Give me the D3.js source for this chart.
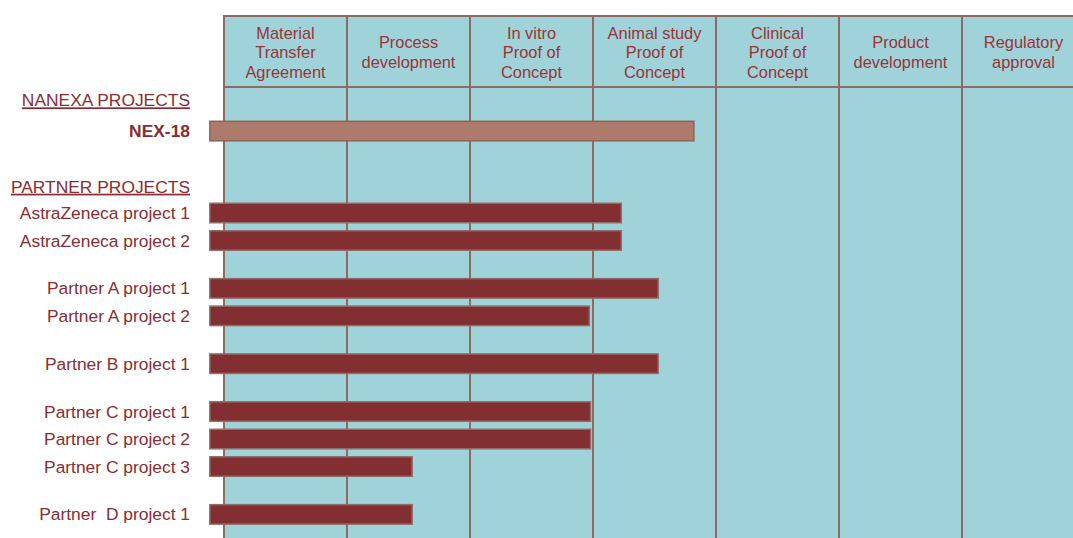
<!DOCTYPE html>
<html>
<head>
<meta charset="utf-8">
<script src="https://cdn.jsdelivr.net/npm/d3@7"></script>
<style>
  body { margin: 0; background: #fff; }
  text { font-family: "Liberation Sans", Arial, sans-serif; }
</style>
</head>
<body>
<div id="viz"></div>
<script>
// phases (column headers), one line per array entry
var phases = [
  ["Material", "Transfer", "Agreement"],
  ["Process", "development"],
  ["In vitro", "Proof of", "Concept"],
  ["Animal study", "Proof of", "Concept"],
  ["Clinical", "Proof of", "Concept"],
  ["Product", "development"],
  ["Regulatory", "approval"]
]

// own projects
var nanexaProjects = ["NEX-18"]
var nanexaProgress = [3.82]

// partner projects, grouped by partner
var partnerGroups = [
  ["AstraZeneca project 1", "AstraZeneca project 2"],
  ["Partner A project 1", "Partner A project 2"],
  ["Partner B project 1"],
  ["Partner C project 1", "Partner C project 2", "Partner C project 3"],
  ["Partner  D project 1"]
]
var partnerProgress = [
  [3.23, 3.23],
  [3.53, 2.97],
  [3.53],
  [2.98, 2.98, 1.53],
  [1.53]
]

var barStart = -0.115  // bars begin a little left of the first column

var width = 1073, height = 538
var gridTop = 16, headerBottom = 87

var svg = d3.select("#viz").append("svg")
  .attr("width", width)
  .attr("height", height)

var xScale = d3.scaleLinear()
  .domain([0, phases.length])
  .range([224, 224 + 123 * phases.length])

// rows are laid out in slot units, gaps between partner groups
var groupGap = 0.74
var yScale = d3.scaleLinear()
  .domain([0, 1])
  .range([213, 240.5])

// build row list
var rows = []
var headings = [
  {text: "NANEXA PROJECTS", slot: -4.1},
  {text: "PARTNER PROJECTS", slot: -0.96}
]
nanexaProjects.forEach(function(name, i) {
  rows.push({name: name, value: nanexaProgress[i], slot: -2.98, own: true})
})
var k = 0
partnerGroups.forEach(function(group, g) {
  group.forEach(function(name, i) {
    rows.push({name: name, value: partnerProgress[g][i], slot: k + g * groupGap, own: false})
    k++
  })
})

var lineColor = "#8d6b62"
var textColor = "#8a2c31"
var labelSize = 17.4

// grid background
svg.append("rect")
  .attr("x", xScale(0))
  .attr("y", gridTop)
  .attr("width", xScale(phases.length) - xScale(0))
  .attr("height", height - gridTop + 10)
  .attr("fill", "#9fd3d9")
  .attr("stroke", lineColor)
  .attr("stroke-width", 2)

// header bottom line
svg.append("line")
  .attr("x1", xScale(0)).attr("x2", xScale(phases.length))
  .attr("y1", headerBottom).attr("y2", headerBottom)
  .attr("stroke", lineColor).attr("stroke-width", 2)

// column separators
svg.selectAll(".col")
  .data(d3.range(1, phases.length))
  .enter().append("line")
  .attr("x1", function(d) { return xScale(d) })
  .attr("x2", function(d) { return xScale(d) })
  .attr("y1", gridTop)
  .attr("y2", height + 5)
  .attr("stroke", lineColor)
  .attr("stroke-width", 2)

// column headers
var lineH = 19.5
svg.selectAll(".phase")
  .data(phases)
  .enter().append("text")
  .attr("class", "phase")
  .attr("text-anchor", "middle")
  .attr("font-size", 16.4)
  .attr("fill", "#9a3338")
  .each(function(d, i) {
    var cx = xScale(i + 0.5)
    var y0 = 52.5 - (d.length - 1) * lineH / 2
    d3.select(this).selectAll("tspan")
      .data(d)
      .enter().append("tspan")
      .attr("x", cx)
      .attr("y", function(t, j) { return y0 + j * lineH })
      .attr("dy", "0.35em")
      .text(function(t) { return t })
  })

// headings
svg.selectAll(".heading")
  .data(headings)
  .enter().append("text")
  .attr("class", "heading")
  .attr("x", 190)
  .attr("y", function(d) { return yScale(d.slot) })
  .attr("dy", "0.35em")
  .attr("text-anchor", "end")
  .attr("font-size", labelSize)
  .attr("fill", textColor)
  .attr("text-decoration", "underline")
  .text(function(d) { return d.text })

// row labels
svg.selectAll(".label")
  .data(rows)
  .enter().append("text")
  .attr("class", "label")
  .attr("x", 190)
  .attr("y", function(d) { return yScale(d.slot) })
  .attr("dy", "0.35em")
  .attr("text-anchor", "end")
  .attr("font-size", labelSize)
  .attr("font-weight", function(d) { return d.own ? "bold" : "normal" })
  .attr("fill", textColor)
  .style("white-space", "pre")
  .text(function(d) { return d.name })

// bars
var barH = 19.5
svg.selectAll(".bar")
  .data(rows)
  .enter().append("rect")
  .attr("class", "bar")
  .attr("x", xScale(barStart))
  .attr("y", function(d) { return yScale(d.slot) - barH / 2 })
  .attr("width", function(d) { return xScale(d.value) - xScale(barStart) })
  .attr("height", barH)
  .attr("fill", function(d) { return d.own ? "#ad7a6b" : "#832e31" })
  .attr("stroke", function(d) { return d.own ? "#8d6558" : "#8f6e69" })
  .attr("stroke-width", 1.5)
</script>
</body>
</html>
